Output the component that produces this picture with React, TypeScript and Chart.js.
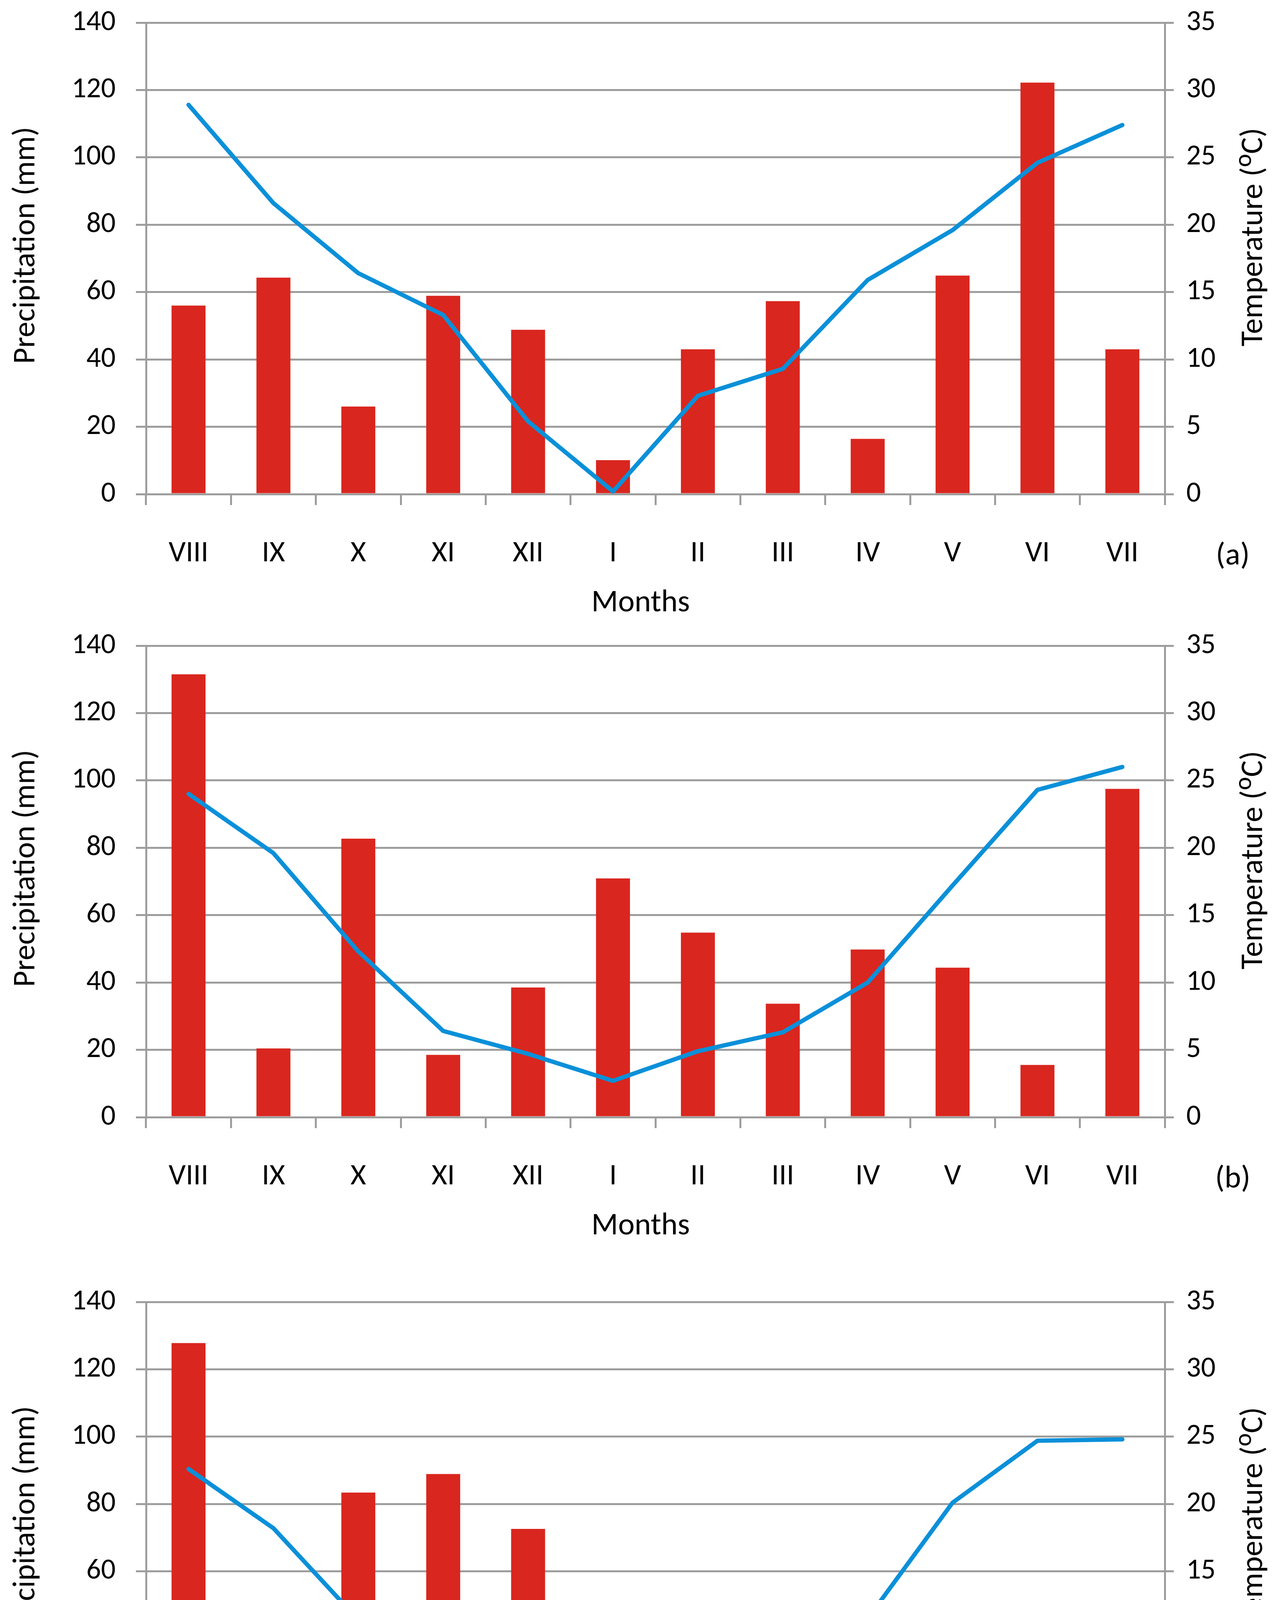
import { useEffect, useRef } from 'react';
import { Chart, registerables } from 'chart.js';

Chart.register(...registerables);

const months = ['VIII', 'IX', 'X', 'XI', 'XII', 'I', 'II', 'III', 'IV', 'V', 'VI', 'VII'];

// precipitation (mm) and mean temperature (oC) per month
const precipA = [56, 64.3, 26, 58.9, 48.8, 10.1, 43, 57.3, 16.4, 64.9, 122.2, 43];
const tempA = [28.9, 21.6, 16.4, 13.3, 5.4, 0.2, 7.3, 9.3, 15.9, 19.6, 24.6, 27.4];

const precipB = [131.5, 20.4, 82.7, 18.5, 38.5, 70.9, 54.8, 33.7, 49.8, 44.4, 15.5, 97.5];
const tempB = [24.0, 19.6, 12.3, 6.4, 4.7, 2.7, 4.9, 6.3, 10.0, 17.2, 24.3, 26.0];

const precipC = [127.8, 9.7, 83.4, 88.9, 72.6, 8.4, 12.7, 2.4, 38.4, 28.2, 40.1, 12.9];
const tempC = [22.6, 18.2, 11.4, 7.3, 7.3, 1.2, 5.8, 6.4, 11.5, 20.1, 24.7, 24.8];

const W = 3259;
const H = 1590;
const LEFT = 374;
const RIGHT = 2982;
const TOP = 58;
const BOTTOM = 1265;
const FONT = 'Carlito, Lato, "Open Sans", sans-serif';
const FS = 74;
const FS_X = 77;
const FS_TITLE = 80;
const GRID = '#9d9d9d';
const RED = '#d9261e';
const BLUE = '#0a90d9';

interface PanelProps {
  precip: number[];
  temp: number[];
  tag: string;
  top: number;
}

function Panel({ precip, temp, tag, top }: PanelProps) {
  const canvasRef = useRef<HTMLCanvasElement>(null);

  useEffect(() => {
    if (!canvasRef.current) return;
    const ctx = canvasRef.current.getContext('2d');
    if (!ctx) return;

    const textPlugin = {
      id: 'panelText',
      afterDraw(chart: Chart) {
        const c = chart.ctx;
        const main = `${FS_TITLE}px ${FONT}`;
        const sup = `${Math.round(FS_TITLE * 0.8)}px ${FONT}`;
        c.save();
        c.fillStyle = '#000';
        c.font = main;

        // left axis title, reads bottom to top
        c.save();
        c.translate(88, BOTTOM - 637);
        c.rotate(-Math.PI / 2);
        c.textAlign = 'center';
        c.textBaseline = 'alphabetic';
        c.fillText('Precipitation (mm)', 0, 0);
        c.restore();

        // right axis title with superscript o
        c.save();
        c.translate(3231, BOTTOM - 658);
        c.rotate(-Math.PI / 2);
        c.textAlign = 'left';
        c.textBaseline = 'alphabetic';
        const a = 'Temperature (';
        const b = 'C)';
        c.font = main;
        const wa = c.measureText(a).width;
        const wb = c.measureText(b).width;
        c.font = sup;
        const wo = c.measureText('o').width;
        let u = -(wa + wo + wb) / 2;
        c.font = main;
        c.fillText(a, u, 0);
        u += wa;
        c.font = sup;
        c.fillText('o', u, -28);
        u += wo;
        c.font = main;
        c.fillText(b, u, 0);
        c.restore();

        c.textAlign = 'center';
        c.textBaseline = 'middle';
        c.fillText('Months', 1640, BOTTOM + 280);
        c.fillText(tag, 3156, BOTTOM + 160);
        c.restore();
      },
    };

    const chart = new Chart(ctx, {
      type: 'bar',
      data: {
        labels: months,
        datasets: [
          {
            type: 'line',
            label: 'Temperature',
            data: temp,
            yAxisID: 'y1',
            borderColor: BLUE,
            borderWidth: 11,
            borderCapStyle: 'round',
            borderJoinStyle: 'round',
            pointRadius: 0,
            tension: 0,
            fill: false,
            clip: false,
            order: 0,
          },
          {
            type: 'bar',
            label: 'Precipitation',
            data: precip,
            yAxisID: 'y',
            backgroundColor: RED,
            borderWidth: 0,
            barPercentage: 0.4,
            categoryPercentage: 1,
            order: 1,
          },
        ],
      },
      options: {
        responsive: false,
        animation: false,
        layout: { padding: { top: TOP, left: 0, right: 0, bottom: 0 } },
        plugins: {
          legend: { display: false },
          tooltip: { enabled: false },
        },
        scales: {
          x: {
            offset: true,
            grid: {
              offset: true,
              drawOnChartArea: false,
              drawTicks: true,
              tickLength: 28,
              color: GRID,
              lineWidth: 5,
            },
            border: { display: true, color: GRID, width: 5 },
            ticks: {
              color: '#000',
              font: { family: FONT, size: FS_X, lineHeight: 1 },
              padding: 86,
              maxRotation: 0,
              autoSkip: false,
            },
            afterFit: (scale: any) => {
              scale.height = H - BOTTOM;
            },
          },
          y: {
            position: 'left',
            min: 0,
            max: 140,
            grid: { color: GRID, lineWidth: 5, tickLength: 26, drawTicks: true },
            border: { display: true, color: GRID, width: 5 },
            ticks: {
              stepSize: 20,
              color: '#000',
              font: { family: FONT, size: FS, lineHeight: 1 },
              padding: 52,
            },
            afterFit: (scale: any) => {
              scale.width = LEFT;
              scale.paddingTop = 0;
              scale.paddingBottom = 0;
            },
          },
          y1: {
            position: 'right',
            min: 0,
            max: 35,
            grid: {
              drawOnChartArea: false,
              drawTicks: true,
              tickLength: 23,
              color: GRID,
              lineWidth: 5,
            },
            border: { display: true, color: GRID, width: 5 },
            ticks: {
              stepSize: 5,
              color: '#000',
              font: { family: FONT, size: FS, lineHeight: 1 },
              padding: 32,
            },
            afterFit: (scale: any) => {
              scale.width = W - RIGHT;
              scale.paddingTop = 0;
              scale.paddingBottom = 0;
            },
          },
        },
      },
      plugins: [textPlugin],
    });

    return () => {
      chart.destroy();
    };
  }, [precip, temp, tag]);

  return (
    <canvas
      ref={canvasRef}
      width={W}
      height={H}
      style={{ position: 'absolute', left: 0, top, width: W, height: H }}
    />
  );
}

export default function App() {
  return (
    <div
      style={{
        position: 'absolute',
        left: 0,
        top: 0,
        width: W,
        height: 4870,
        background: '#ffffff',
        overflow: 'hidden',
      }}
    >
      <Panel precip={precipA} temp={tempA} tag="(a)" top={0} />
      <Panel precip={precipB} temp={tempB} tag="(b)" top={1595} />
      <Panel precip={precipC} temp={tempC} tag="(c)" top={3275} />
    </div>
  );
}
